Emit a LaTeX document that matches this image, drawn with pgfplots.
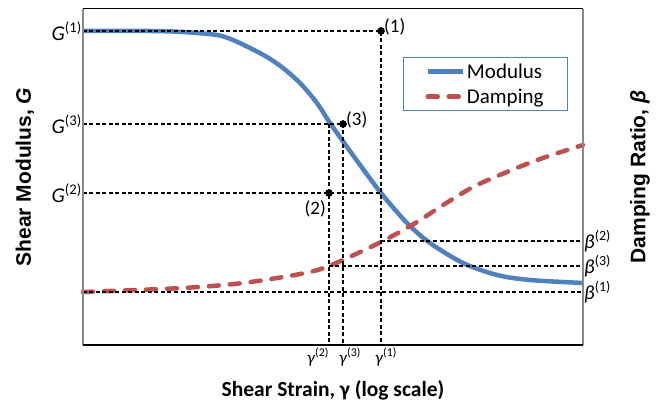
\documentclass[border=0pt]{standalone}
\usepackage{pgfplots}
\pgfplotsset{compat=1.18}
\usepackage{fontspec}
\setmainfont{Carlito}
\newfontfamily\arialfont{Liberation Sans}

\definecolor{modblue}{HTML}{4F81BD}
\definecolor{dampred}{HTML}{C0504D}
\definecolor{framegray}{HTML}{898989}

\newcommand{\Gsup}[1]{\textit{G}\textsuperscript{(#1)}}
\newcommand{\Bsup}[1]{\textit{β}\textsuperscript{(#1)}}
\newcommand{\Ysup}[1]{\textit{γ}\textsuperscript{(#1)}}

\tikzset{
  refline/.style={black, line width=1.2bp, dash pattern=on 4bp off 2.5bp},
  ptlabel/.style={font=\fontsize{19bp}{21bp}\selectfont, inner sep=1bp},
  glabel/.style={anchor=north, font=\fontsize{17bp}{19bp}\selectfont, inner sep=1bp},
}

\begin{document}
\begin{tikzpicture}
\path[use as bounding box] (-83bp,-59bp) rectangle (580bp,345bp);

% right-hand damping scale
\begin{axis}[
  at={(0,0)}, anchor=south west,
  scale only axis, width=500bp, height=336bp,
  xmin=0, xmax=500, ymin=0, ymax=336,
  axis line style={draw=none},
  axis x line=none,
  axis y line*=right,
  major tick length=0pt,
  ytick={53,79,104},
  yticklabels={\Bsup{1},\Bsup{3},\Bsup{2}},
  yticklabel style={font=\fontsize{20bp}{22bp}\selectfont, inner sep=1bp, anchor=west},
  ylabel={\arialfont\bfseries\fontsize{21bp}{24bp}\selectfont Damping Ratio, \textit{β}},
  ylabel style={at={(axis description cs:1.114,0.5)}, anchor=center},
]
\end{axis}

\begin{axis}[
  at={(0,0)}, anchor=south west,
  scale only axis, width=500bp, height=336bp,
  xmin=0, xmax=500, ymin=0, ymax=336,
  axis line style={draw=none},
  major tick length=0pt,
  xtick=\empty,
  ytick={152,221,314},
  yticklabels={\Gsup{2},\Gsup{3},\Gsup{1}},
  yticklabel style={font=\fontsize{21bp}{23bp}\selectfont, inner sep=1bp},
  xlabel={\bfseries\fontsize{21.5bp}{24bp}\selectfont Shear Strain, γ (log scale)},
  xlabel style={at={(axis description cs:0.5,0)}, anchor=center, yshift=-45bp},
  ylabel={\arialfont\bfseries\fontsize{21bp}{24bp}\selectfont Shear Modulus, \textit{G}},
  ylabel style={at={(axis description cs:-0.116,0.5)}, anchor=center},
  clip=false,
  legend style={at={(axis cs:320,288)}, anchor=north west,
    draw=modblue, line width=1bp, fill=white,
    inner xsep=22bp, inner ysep=5bp, row sep=7bp,
    nodes={inner ysep=1bp},
    font=\fontsize{21bp}{23bp}\selectfont},
  legend cell align=left,
  legend image code/.code={\draw[#1] (0bp,0bp) -- (35bp,0bp);},
]

% modulus reduction curve
\addplot[modblue, line width=4.5bp, smooth, tension=0.5] coordinates {
  (0,314) (67,314) (100,313) (134,310) (150,305) (167,297) (184,288)
  (200,277) (217,262) (234,242) (247,222) (272,187) (298,152) (324,122)
  (347,102) (380,82) (414,70) (447,65) (500,62)
};
\addlegendentry{Modulus}

% damping ratio curve
\addplot[dampred, line width=4.5bp, line cap=round, dash pattern=on 10bp off 11bp,
  smooth, tension=0.5] coordinates {
  (0,53) (100,57) (160,62) (217,71) (246,79) (298,103) (334,123)
  (357,138) (390,158) (424,173) (457,186) (500,200)
};
\addlegendentry{Damping}

% reference lines
\addplot[refline, forget plot] coordinates {(0,314) (298,314) (298,0)};
\addplot[refline, forget plot] coordinates {(0,221) (260,221) (260,0)};
\addplot[refline, forget plot] coordinates {(246,221) (246,0)};
\addplot[refline, forget plot] coordinates {(0,152) (298,152)};
\addplot[refline, forget plot] coordinates {(298,104) (500,104)};
\addplot[refline, forget plot] coordinates {(246,79) (500,79)};
\addplot[refline, forget plot] coordinates {(0,53) (500,53)};

% selected states
\addplot[only marks, mark=*, mark size=3.6bp, black, forget plot]
  coordinates {(298,314) (260,221) (246,152)};

\node[ptlabel, anchor=west] at (axis cs:300,318) {(1)};
\node[ptlabel, anchor=west] at (axis cs:262,225) {(3)};
\node[ptlabel, anchor=north east] at (axis cs:244,146) {(2)};

% strain labels under the reference lines
\node[glabel] at (axis cs:235,-2) {\Ysup{2}};
\node[glabel] at (axis cs:267,-2) {\Ysup{3}};
\node[glabel] at (axis cs:303,-2) {\Ysup{1}};

% frame
\draw[framegray, line width=1.5bp] (axis cs:0,0) -- (axis cs:0,336);
\draw[framegray, line width=1.5bp] (axis cs:500,0) -- (axis cs:500,336);
\draw[black, line width=1bp] (axis cs:0,336) -- (axis cs:500,336);
\draw[black, line width=1.3bp] (axis cs:0,0) -- (axis cs:500,0);
\end{axis}
\end{tikzpicture}
\end{document}
